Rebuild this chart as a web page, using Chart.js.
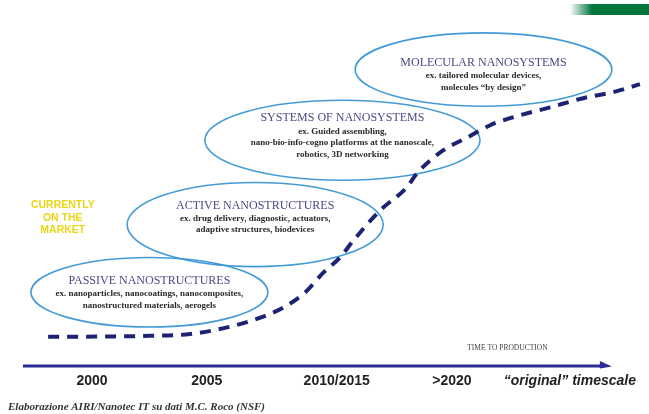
<!DOCTYPE html>
<html>
<head>
<meta charset="utf-8">
<title>Nanotechnology timeline</title>
<script src="https://cdn.jsdelivr.net/npm/chart.js@4.4.1/dist/chart.umd.min.js"></script>
<style>
  html, body { margin: 0; padding: 0; background: #fff; }
  #wrap { width: 649px; height: 414px; }
</style>
</head>
<body>
<div id="wrap"><canvas id="chart" width="649" height="414"></canvas></div>
<script>
// relative time axis (0-100), tick positions and their labels
var tickValues = [13.2, 31.2, 51.6, 69.7, 88.2];
var tickLabels = ['2000', '2005', '2010/2015', '>2020', '\u201coriginal\u201d timescale'];

// dashed curve (time to production)
var curveX = [6.3, 14.4, 22.3, 28.6, 35.3, 40.4, 43.2, 46.6, 49.5, 52.1, 54.2, 58.4, 62.6, 64.2, 68.3, 72.1, 75.7, 78.8, 85.1, 90.3, 95.6, 99.2];
var curveY = [8.3, 8.4, 8.6, 9.1, 11.4, 14.3, 16.6, 20.9, 26.6, 30.9, 35.7, 44.3, 50.9, 54.9, 61.4, 65.1, 68.6, 70.6, 73.7, 76.3, 78.3, 80.3];

// stages
var stageNames = ['PASSIVE NANOSTRUCTURES', 'ACTIVE NANOSTRUCTURES', 'SYSTEMS OF NANOSYSTEMS', 'MOLECULAR NANOSYSTEMS'];
var stageExamples = [
    ['ex. nanoparticles, nanocoatings, nanocomposites,', 'nanostructured materials, aerogels'],
    ['ex. drug delivery, diagnostic, actuators,', 'adaptive structures, biodevices'],
    ['ex. Guided assembling,', 'nano-bio-info-cogno platforms at the nanoscale,', 'robotics, 3D networking'],
    ['ex. tailored molecular devices,', 'molecules \u201cby design\u201d']
];
var stageStart = [3.6, 18.7, 30.9, 54.5];
var stageEnd = [40.8, 58.9, 74.1, 94.8];
var stageLow = [11.1, 28.3, 52.9, 74.0];
var stageHigh = [30.9, 52.3, 75.7, 94.9];
var stageTextY = [24.3, 45.7, 70.6, 86.3];

var marketNote = ['CURRENTLY', 'ON THE', 'MARKET'];

var SERIF = '"Liberation Serif", "DejaVu Serif", serif';
var SANS = '"Liberation Sans", Arial, sans-serif';

var points = curveX.map(function (x, i) {
    return { x: x, y: curveY[i] };
});

// ellipses, labels, arrow axis and decorations
var diagramPlugin = {
    id: 'diagram',
    beforeDatasetsDraw: function (chart) {
        var ctx = chart.ctx;
        var xs = chart.scales.x, ys = chart.scales.y;
        ctx.save();

        // green bar top right
        var grad = ctx.createLinearGradient(570, 0, 592, 0);
        grad.addColorStop(0, 'rgba(0,118,60,0)');
        grad.addColorStop(1, 'rgba(0,118,60,1)');
        ctx.fillStyle = grad;
        ctx.fillRect(570, 4, 79, 11);

        // stage ellipses
        ctx.strokeStyle = 'rgba(58,150,212,0.95)';
        ctx.lineWidth = 1.6;
        for (var i = 0; i < stageNames.length; i++) {
            var x0 = xs.getPixelForValue(stageStart[i]);
            var x1 = xs.getPixelForValue(stageEnd[i]);
            var y0 = ys.getPixelForValue(stageHigh[i]);
            var y1 = ys.getPixelForValue(stageLow[i]);
            ctx.beginPath();
            ctx.ellipse((x0 + x1) / 2, (y0 + y1) / 2, (x1 - x0) / 2, (y1 - y0) / 2, 0, 0, Math.PI * 2);
            ctx.stroke();
        }

        // time axis arrow
        var ay = ys.getPixelForValue(0);
        var ax0 = xs.getPixelForValue(2.35);
        var ax1 = xs.getPixelForValue(94.8);
        ctx.strokeStyle = '#2b2b94';
        ctx.lineWidth = 3;
        ctx.beginPath();
        ctx.moveTo(ax0, ay);
        ctx.lineTo(ax1 - 8, ay);
        ctx.stroke();
        ctx.fillStyle = '#2b2b94';
        ctx.beginPath();
        ctx.moveTo(ax1 - 12, ay - 5);
        ctx.lineTo(ax1, ay + 0.5);
        ctx.lineTo(ax1 - 12, ay + 2.5);
        ctx.closePath();
        ctx.fill();

        ctx.fillStyle = '#444';
        ctx.font = '7.5px ' + SERIF;
        ctx.textAlign = 'left';
        ctx.textBaseline = 'middle';
        ctx.fillText('TIME TO PRODUCTION', xs.getPixelForValue(72.1), ys.getPixelForValue(5.1));

        ctx.restore();
    },
    afterDatasetsDraw: function (chart) {
        var ctx = chart.ctx;
        var xs = chart.scales.x, ys = chart.scales.y;
        ctx.save();
        ctx.textAlign = 'center';
        ctx.textBaseline = 'middle';
        for (var i = 0; i < stageNames.length; i++) {
            var cx = (xs.getPixelForValue(stageStart[i]) + xs.getPixelForValue(stageEnd[i])) / 2;
            var ty = ys.getPixelForValue(stageTextY[i]);
            ctx.fillStyle = '#4a4a86';
            ctx.font = '12px ' + SERIF;
            ctx.fillText(stageNames[i], cx, ty);
            ctx.fillStyle = '#2a2a2a';
            ctx.font = 'bold 9px ' + SERIF;
            stageExamples[i].forEach(function (line, k) {
                ctx.fillText(line, cx, ty + 13 + k * 11.5);
            });
        }

        // yellow note
        ctx.fillStyle = '#ecd514';
        ctx.font = 'bold 10.5px ' + SANS;
        var nx = xs.getPixelForValue(8.6);
        var ny = ys.getPixelForValue(45.7);
        marketNote.forEach(function (line, k) {
            ctx.fillText(line, nx, ny + k * 12.5);
        });
        ctx.restore();
    }
};

new Chart(document.getElementById('chart'), {
    type: 'line',
    data: {
        datasets: [{
            label: 'Time to production',
            data: points,
            borderColor: '#1c2372',
            borderWidth: 4,
            borderDash: [11, 8],
            borderCapStyle: 'butt',
            pointRadius: 0,
            fill: false,
            cubicInterpolationMode: 'monotone'
        }]
    },
    options: {
        responsive: false,
        animation: false,
        layout: { padding: { left: 8, right: 4, top: 15, bottom: 0 } },
        scales: {
            x: {
                type: 'linear',
                min: 0,
                max: 100,
                grid: { display: false, drawTicks: false },
                border: { display: false },
                afterBuildTicks: function (axis) {
                    axis.ticks = tickValues.map(function (v) { return { value: v }; });
                },
                ticks: {
                    autoSkip: false,
                    maxRotation: 0,
                    padding: 7,
                    color: '#222',
                    callback: function (value, index) {
                        return tickLabels[index];
                    },
                    font: function (ctx) {
                        return {
                            family: SANS,
                            size: 14,
                            weight: 'bold',
                            style: ctx.index === tickLabels.length - 1 ? 'italic' : 'normal'
                        };
                    }
                }
            },
            y: {
                type: 'linear',
                min: 0,
                max: 100,
                display: false
            }
        },
        plugins: {
            legend: { display: false },
            tooltip: { enabled: false },
            subtitle: {
                display: true,
                position: 'bottom',
                align: 'start',
                text: 'Elaborazione AIRI/Nanotec IT su dati M.C. Roco (NSF)',
                color: '#333',
                font: { family: SERIF, size: 11, style: 'italic', weight: 'bold' },
                padding: { top: 4, bottom: 0 }
            }
        }
    },
    plugins: [diagramPlugin]
});
</script>
</body>
</html>
